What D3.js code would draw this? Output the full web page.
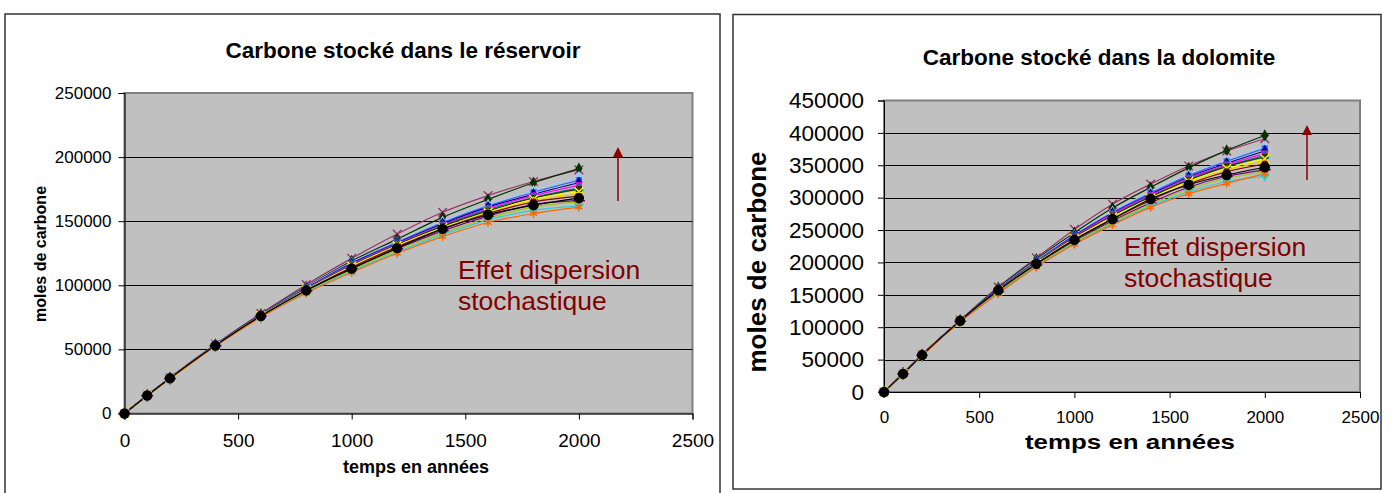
<!DOCTYPE html>
<html>
<head>
<meta charset="utf-8">
<script src="https://cdn.jsdelivr.net/npm/d3@7"></script>
<style>
  body{margin:0;background:#fff;}
  text{font-family:"Liberation Sans",Arial,sans-serif;}
</style>
</head>
<body>
<script>
// time axis (years)
var years=[0,100,200,400,600,800,1000,1200,1400,1600,1800,2000]
var xTicks=[0,500,1000,1500,2000,2500]
var reservoirTicks=[0,50000,100000,150000,200000,250000]
var dolomiteTicks=[0,50000,100000,150000,200000,250000,300000,350000,400000,450000]

// carbone stocké dans le réservoir, one array per run
var reservoirRuns=[
  [0,14300,28000,54000,78000,100500,121000,140000,157000,170000,181000,190000],
  [0,14200,27900,53800,77500,99000,119000,136000,153000,167000,180000,191000],
  [0,14100,27800,53600,77000,98500,118000,134000,150000,163000,174000,185000],
  [0,14100,27700,53500,76800,98000,117500,133500,149000,162000,172500,182000],
  [0,14000,27600,53400,76600,97500,117000,133000,148000,161000,171000,180000],
  [0,14000,27600,53300,76500,97300,116500,132500,147000,160000,170000,178000],
  [0,14000,27500,53200,76400,97000,116000,132000,146500,159000,168500,176000],
  [0,14000,27500,53100,76300,96800,115500,131500,146000,158000,168000,175000],
  [0,13950,27450,53000,76200,96500,115000,131000,145000,157000,167000,173000],
  [0,13950,27400,53000,76100,96300,114500,130500,144500,156500,166000,171000],
  [0,13900,27400,52900,76000,96000,114000,130000,144000,156000,165000,169500],
  [0,13900,27300,52800,75800,95700,113000,128500,142500,154000,163000,166000],
  [0,13900,27200,52700,75600,95300,112000,127500,141000,152500,161000,165000],
  [0,13850,27100,52600,75300,94800,111000,126000,139500,151000,158500,162000],
  [0,13800,27000,52500,75000,94000,110000,125000,138000,149000,156000,161000],
  [0,14000,27500,53000,76000,96000,113000,129000,144000,155000,162500,168000]
]

// carbone stocké dans la dolomite, one array per run
var dolomiteRuns=[
  [0,29000,58000,111000,162000,207000,251000,290000,321000,349000,372000,391000],
  [0,28900,57800,110800,161000,205000,246000,284000,316000,346000,373000,396000],
  [0,28700,57500,110500,159500,203000,243000,279000,309000,336000,358000,380000],
  [0,28600,57400,110300,159000,202000,242000,277000,307000,334000,356000,376000],
  [0,28500,57300,110200,158500,201000,241000,276000,305000,332000,353000,372000],
  [0,28500,57200,110000,158000,200500,240000,275000,304000,330000,351000,368000],
  [0,28400,57100,109900,157500,200000,239000,273000,302000,328000,349000,365000],
  [0,28400,57000,109800,157000,199500,238000,272000,301000,327000,348000,363000],
  [0,28300,57000,109600,156500,199000,237000,270000,299000,325000,345000,360000],
  [0,28300,56900,109500,156000,198000,236000,269000,297000,323000,342000,356000],
  [0,28200,56800,109300,155500,197500,235000,267000,296000,321000,340000,352000],
  [0,28000,56600,109000,154500,196000,233000,264000,292000,316000,333000,343000],
  [0,27900,56400,108800,154000,195000,231000,262000,290000,313000,330000,340000],
  [0,27700,56200,108400,153000,194000,229500,260000,287000,309000,325000,333000],
  [0,27500,56000,108000,152000,193000,228000,258000,285000,306000,322000,337000],
  [0,28000,57000,110000,157000,198000,235000,267000,298000,320000,335000,347000]
]

// run styles (same order as the arrays above)
var runColors=["#993366","#003300","#99CCFF","#3366FF","#000080","#FF00FF","#008080","#333300",
               "#FFFF00","#FFCC00","#800000","#800080","#99CC00","#33CCCC","#FF6600","#000000"]
var runMarkers=["times","diamond","triangle","square","diamond","square","triangle","square",
                "times","asterisk","circle","plus","diamond","triangleDown","asterisk","bigCircle"]

var svg=d3.select("body").append("svg")
          .attr("width",1395)
          .attr("height",493)

var drawMarker=function(g,kind,color,x,y){
  var strokeTypes={times:d3.symbolTimes,asterisk:d3.symbolAsterisk,plus:d3.symbolPlus}
  if(strokeTypes[kind]){
    g.append("path").attr("d",d3.symbol(strokeTypes[kind],50)())
     .attr("transform","translate("+x+","+y+")")
     .attr("fill","none").attr("stroke",color).attr("stroke-width",1.4)
    return
  }
  var types={diamond:[d3.symbolDiamond,44],square:[d3.symbolSquare,38],triangle:[d3.symbolTriangle,42],
             triangleDown:[d3.symbolTriangle,42],circle:[d3.symbolCircle,38],bigCircle:[d3.symbolCircle,85]}
  var t=types[kind]
  g.append("path").attr("d",d3.symbol(t[0],t[1])())
   .attr("transform","translate("+x+","+y+")"+(kind=="triangleDown"?" rotate(180)":""))
   .attr("fill",color)
}

var drawPanel=function(p){
  //frame
  svg.append("rect").attr("x",p.frame[0]).attr("y",p.frame[1])
     .attr("width",p.frame[2]).attr("height",p.frame[3])
     .attr("fill","#fff").attr("stroke","#333").attr("stroke-width",1.5)
  var xScale=d3.scaleLinear().domain([0,2500]).range([p.left,p.right])
  var yScale=d3.scaleLinear().domain([0,p.yMax]).range([p.bottom,p.top])
  //plot area
  svg.append("rect").attr("x",p.left).attr("y",p.top)
     .attr("width",p.right-p.left).attr("height",p.bottom-p.top)
     .attr("fill","#c0c0c0").attr("stroke","#808080").attr("stroke-width",2)
  //grid
  svg.append("g").selectAll("line").data(p.yTicks.slice(1,p.yTicks.length-1)).enter()
     .append("line")
     .attr("x1",p.left).attr("x2",p.right)
     .attr("y1",function(d){return Math.round(yScale(d))+0.5})
     .attr("y2",function(d){return Math.round(yScale(d))+0.5})
     .attr("stroke","#000").attr("stroke-width",1)
  //axes
  var yAxis=d3.axisLeft(yScale).tickValues(p.yTicks).tickSize(6).tickPadding(p.yPad).tickFormat(d3.format("d"))
  var xAxis=d3.axisBottom(xScale).tickValues(xTicks).tickSize(6).tickPadding(p.xPad).tickFormat(d3.format("d"))
  var ya=svg.append("g").attr("transform","translate("+p.left+",0)").call(yAxis)
  ya.select(".domain").attr("stroke","#000")
  ya.selectAll("text").attr("font-size",p.yFont).attr("fill","#000")
  var xa=svg.append("g").attr("transform","translate(0,"+p.bottom+")").call(xAxis)
  xa.select(".domain").attr("stroke","#000")
  xa.selectAll("text").attr("font-size",p.xFont).attr("fill","#000")
  //runs
  var line=d3.line().x(function(d,i){return xScale(years[i])}).y(function(d){return yScale(d)})
             .curve(d3.curveMonotoneX)
  var runs=svg.append("g")
  p.runs.forEach(function(run,k){
    runs.append("path").attr("d",line(run)).attr("fill","none")
        .attr("stroke",runColors[k]).attr("stroke-width",1.2)
  })
  p.runs.forEach(function(run,k){
    run.forEach(function(v,i){drawMarker(runs,runMarkers[k],runColors[k],xScale(years[i]),yScale(v))})
  })
  //labels
  svg.append("text").attr("x",p.titleX).attr("y",p.titleY).attr("text-anchor","middle")
     .attr("font-weight","bold").attr("font-size",p.titleFont).text(p.title)
  var xl=svg.append("text").attr("x",p.xLabelX).attr("y",p.xLabelY).attr("text-anchor","middle")
     .attr("font-weight","bold").attr("font-size",p.xLabelFont).text("temps en années")
  if(p.xLabelLen){xl.attr("textLength",p.xLabelLen).attr("lengthAdjust","spacingAndGlyphs")}
  svg.append("text").attr("transform","translate("+p.yLabelX+","+p.yLabelY+") rotate(-90)")
     .attr("text-anchor","middle").attr("font-weight","bold").attr("font-size",p.yLabelFont)
     .text("moles de carbone")
  //annotation
  var note=svg.append("text").attr("fill","#800000").attr("font-size",26.5)
  note.append("tspan").attr("x",p.noteX).attr("y",p.noteY).text("Effet dispersion")
  note.append("tspan").attr("x",p.noteX).attr("y",p.noteY+31).text("stochastique")
  svg.append("line").attr("x1",p.arrowX).attr("x2",p.arrowX)
     .attr("y1",p.arrowY[0]).attr("y2",p.arrowY[1]+8)
     .attr("stroke","#8B0000").attr("stroke-width",1.5)
  svg.append("path").attr("d","M"+(p.arrowX-5)+","+(p.arrowY[1]+10)+"L"+p.arrowX+","+p.arrowY[1]+"L"+(p.arrowX+5)+","+(p.arrowY[1]+10)+"Z")
     .attr("fill","#8B0000")
}

drawPanel({frame:[5,14,715,490],left:124.5,right:692.5,top:93,bottom:413.5,yMax:250000,yTicks:reservoirTicks,
  runs:reservoirRuns,yFont:17,yPad:7,xFont:19,xPad:14,title:"Carbone stocké dans le réservoir",titleX:403,titleY:58,titleFont:22.5,
  xLabelX:416,xLabelY:473,xLabelFont:18,yLabelX:46,yLabelY:254,yLabelFont:16,
  noteX:458,noteY:279,arrowX:618,arrowY:[201,147]})

drawPanel({frame:[733,14.5,648,474.5],left:884,right:1360,top:100.5,bottom:392,yMax:450000,yTicks:dolomiteTicks,
  runs:dolomiteRuns,yFont:22.5,yPad:14,xFont:17,xPad:13,title:"Carbone stocké dans la dolomite",titleX:1099,titleY:65,titleFont:22.5,
  xLabelX:1130,xLabelY:449,xLabelFont:20.5,xLabelLen:210,yLabelX:766,yLabelY:262,yLabelFont:26,
  noteX:1124,noteY:256,arrowX:1307,arrowY:[180,125]})
</script>
</body>
</html>
